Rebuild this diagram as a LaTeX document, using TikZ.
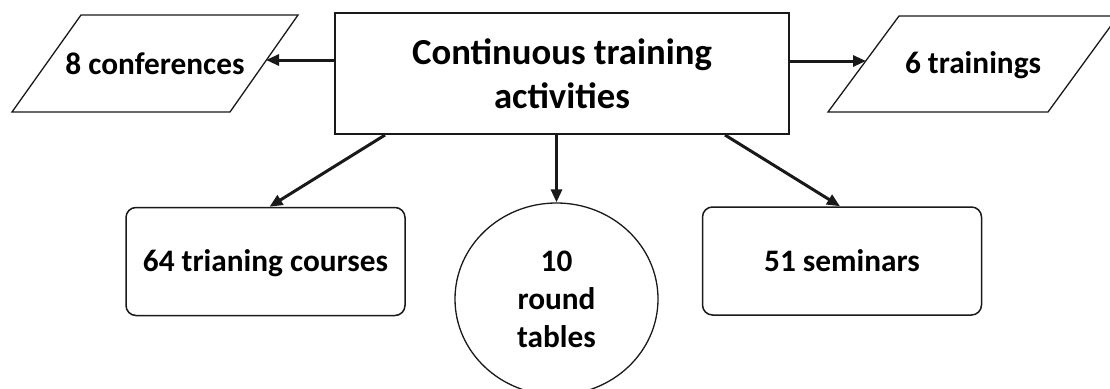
\documentclass[tikz,border=0pt]{standalone}
\usepackage{fontspec}
\setmainfont{Carlito}
\usetikzlibrary{arrows.meta,shapes.geometric}
\begin{document}
\begin{tikzpicture}[x=1pt,y=-1pt,
  ink/.style={draw=black!90},
  mainbox/.style={ink, line width=2pt, minimum width=454pt, minimum height=121pt, inner sep=0pt, align=center, font=\fontsize{36.7}{44}\selectfont\bfseries},
  lbl/.style={font=\fontsize{31.3}{38}\selectfont\bfseries, align=center, inner sep=0pt},
  oneline/.style={text height=20pt, text depth=0pt},
  roundbox/.style={lbl, oneline, ink, line width=1.5pt, rounded corners=10pt, minimum width=279pt, minimum height=108pt},
  ovalbox/.style={lbl, ink, ellipse, line width=1.3pt, minimum width=203pt, minimum height=192pt},
  para/.style={ink, line width=1.3pt},
  arr/.style={draw=black!90, line width=3pt, -{Triangle[length=13pt,width=11pt]}},
]
\useasboundingbox (0,0) rectangle (1110,388);

% central box
\node[mainbox] (main) at (562,73.5) {Continuous training\\activities};

% left parallelogram
\draw[para] (81,15) -- (298,15) -- (230,112) -- (12,112) -- cycle;
\node[lbl, oneline] (conf) at (155,64) {8 conferences};
\coordinate (confTip) at (266,60);

% right parallelogram
\draw[para] (899,16) -- (1118,16) -- (1048,112) -- (828,112) -- cycle;
\node[lbl, oneline] (train) at (973,63) {6 trainings};
\coordinate (trainTip) at (866,61);

% bottom nodes
\node[roundbox] (courses) at (265.5,261.5) {64 trianing courses};
\node[ovalbox] (round) at (556.5,299) {10\\round\\tables};
\node[roundbox] (seminars) at (842,261) {51 seminars};

% connectors
\draw[arr] (main.west |- confTip) -- (confTip);
\draw[arr] (main.east |- trainTip) -- (trainTip);
\draw[arr] ([xshift=-177pt]main.south) -- ([xshift=4pt]courses.north);
\draw[arr] (round.north |- main.south) -- (round.north);
\draw[arr] ([xshift=163pt]main.south) -- ([xshift=-2pt]seminars.north);
\end{tikzpicture}
\end{document}
